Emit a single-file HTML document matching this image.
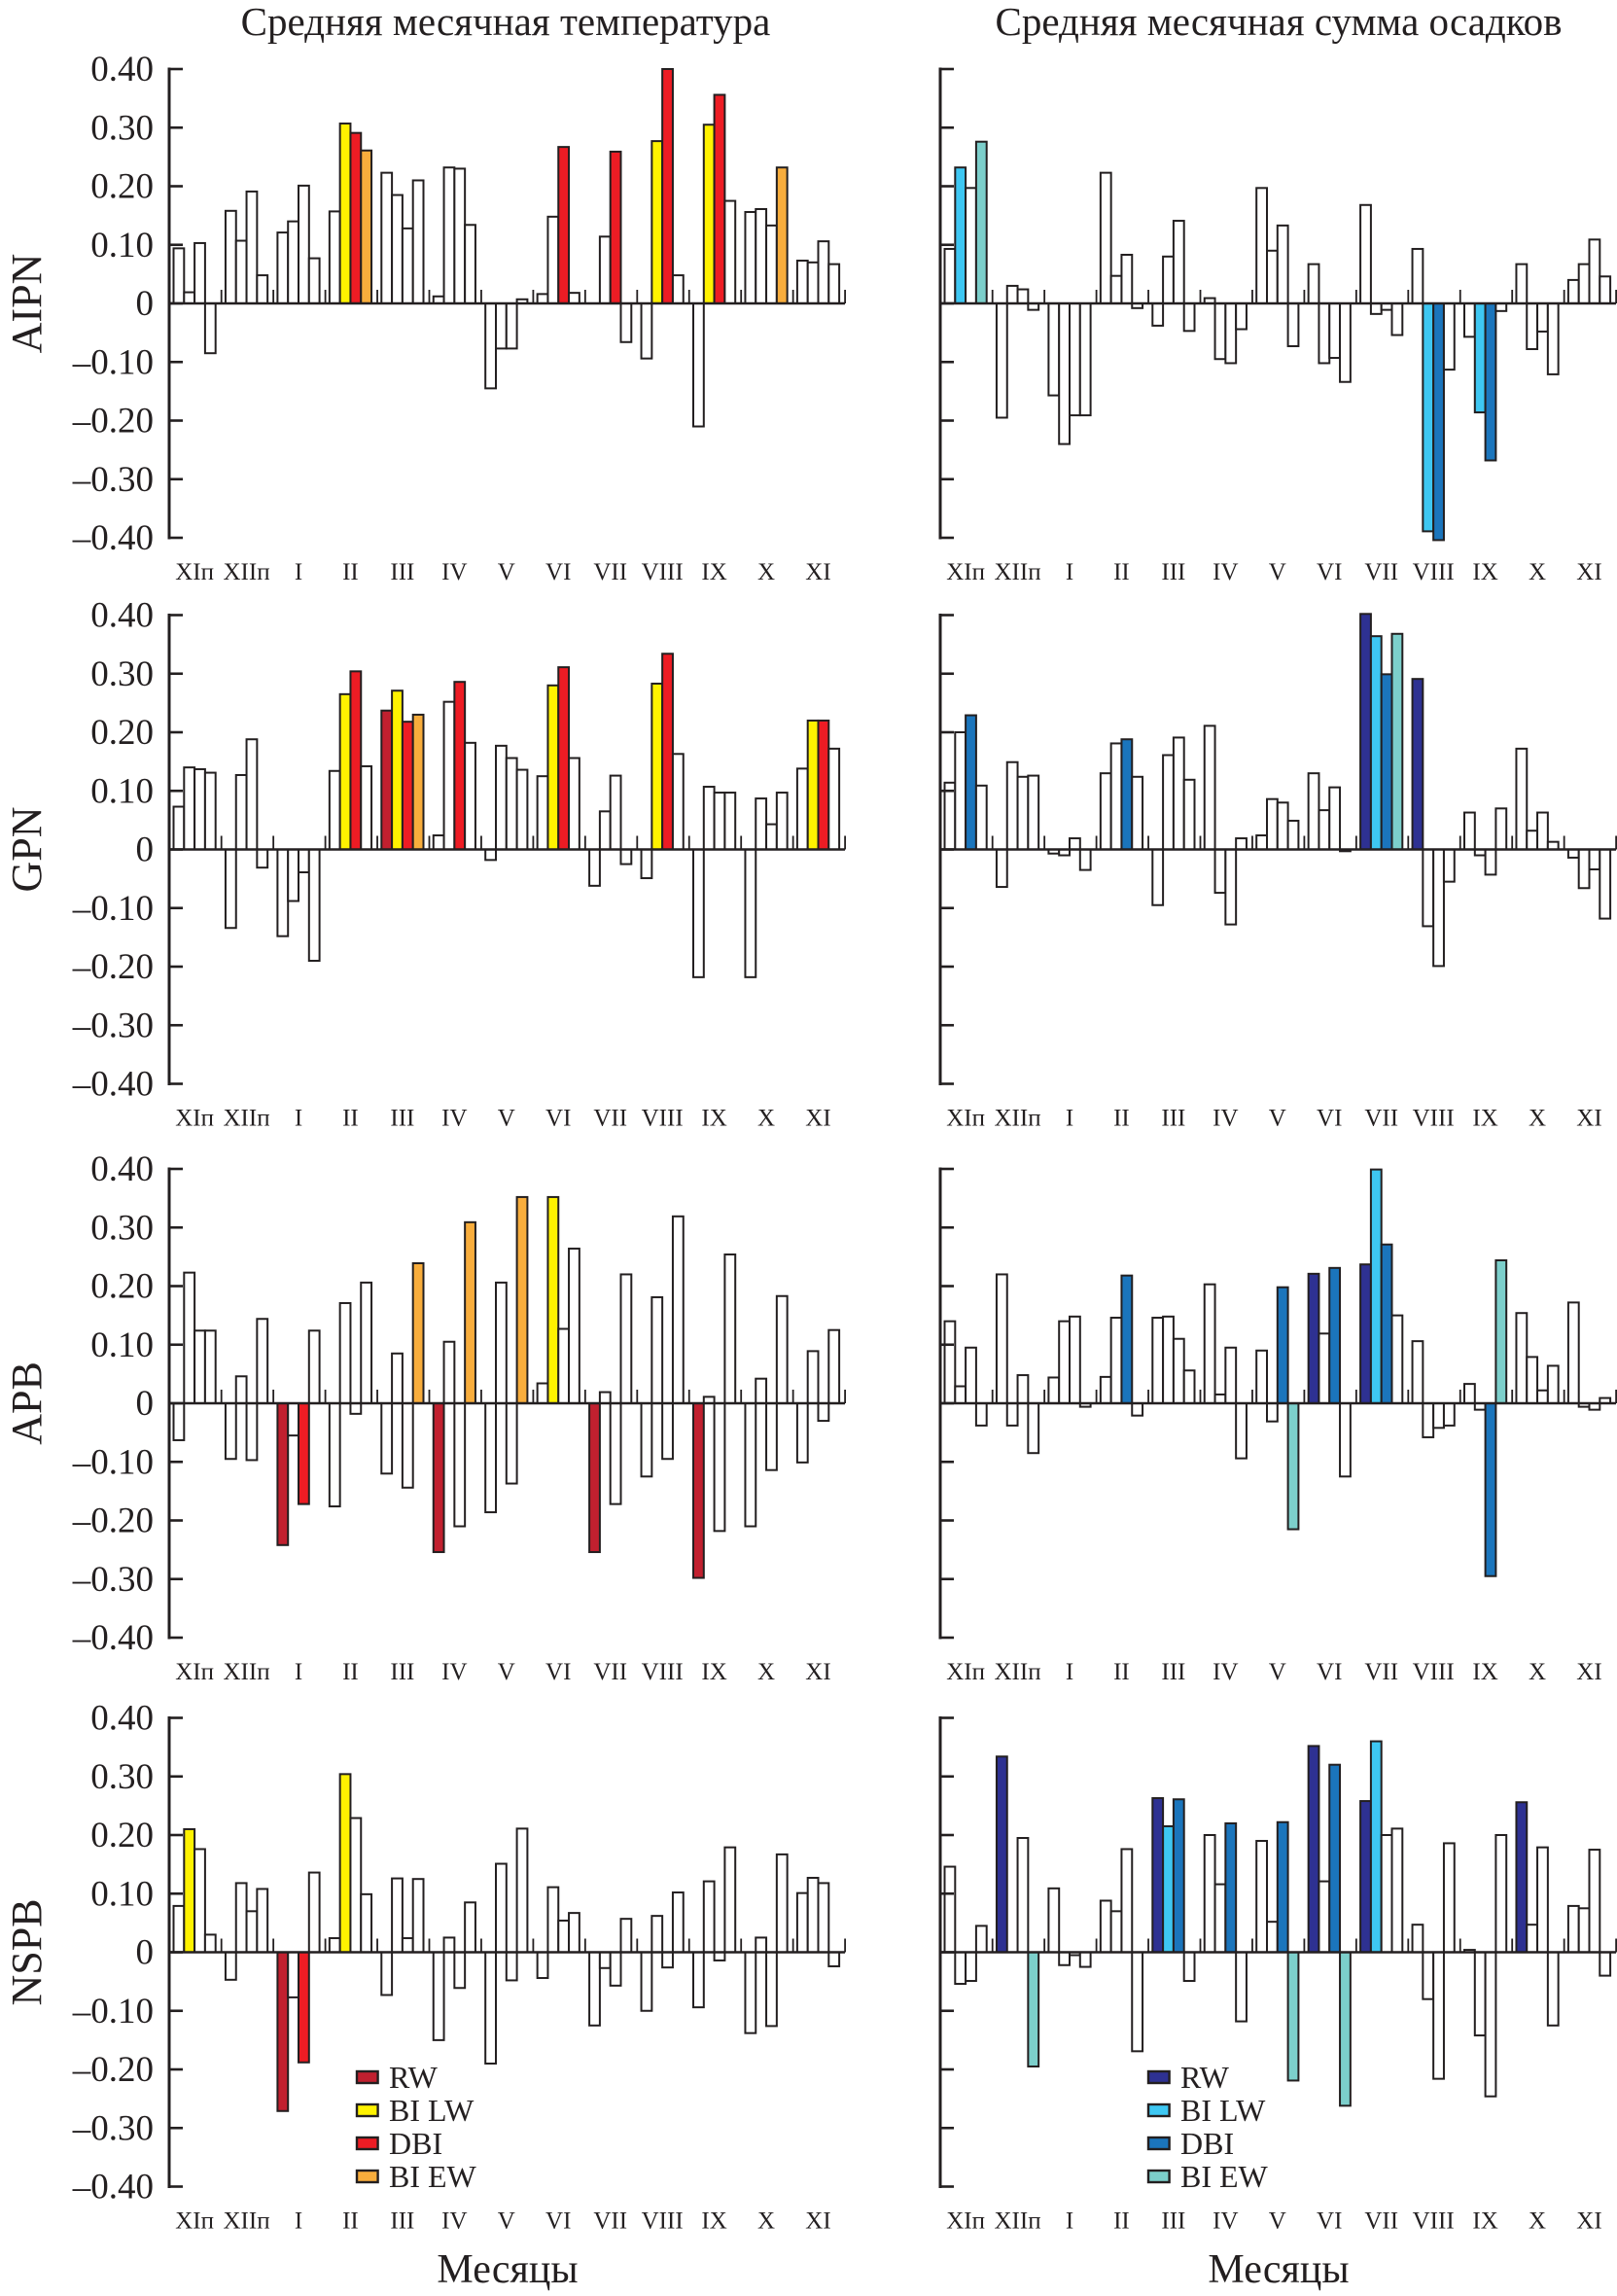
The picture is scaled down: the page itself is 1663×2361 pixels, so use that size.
<!DOCTYPE html>
<html><head><meta charset="utf-8">
<style>
html,body{margin:0;padding:0;background:#fff;}
svg{display:block;font-family:"Liberation Serif","DejaVu Serif",serif;}
</style></head>
<body>
<svg id="chart" width="1663" height="2361" viewBox="0 0 1663 2361" xmlns="http://www.w3.org/2000/svg">
<text x="520" y="36" font-size="41" text-anchor="middle" fill="#231f20">Средняя месячная температура</text>
<text x="1315" y="36" font-size="41" text-anchor="middle" fill="#231f20">Средняя месячная сумма осадков</text>
<text x="522" y="2347" font-size="42" text-anchor="middle" fill="#231f20">Месяцы</text>
<text x="1315" y="2347" font-size="42" text-anchor="middle" fill="#231f20">Месяцы</text>
</svg>
<script>
const months = ["XIп","XIIп","I","II","III","IV","V","VI","VII","VIII","IX","X","XI"];
const rowNames = ["AIPN","GPN","APB","NSPB"];
const tickValues = [0.4,0.3,0.2,0.1,0,-0.1,-0.2,-0.3,-0.4];
const tickLabels = ["0.40","0.30","0.20","0.10","0","–0.10","–0.20","–0.30","–0.40"];
const legendLabels = ["RW","BI LW","DBI","BI EW"];

const tempAIPN = [0.094,0.019,0.103,-0.085, 0.158,0.107,0.191,0.048, 0.121,0.140,0.201,0.077, 0.157,0.307,0.291,0.261, 0.223,0.185,0.128,0.210, 0.012,0.232,0.230,0.134, -0.145,-0.077,-0.077,0.007, 0.016,0.148,0.267,0.018, 0,0.114,0.259,-0.066, -0.094,0.277,0.400,0.048, -0.210,0.305,0.356,0.175, 0.156,0.161,0.133,0.232, 0.073,0.070,0.106,0.067];
const tempAIPNSig = "wwwwwwwwwwwwwYDEwwwwwwwwwwwwwwDwwwDwwYDwwYDwwwwEwwww";
const precAIPN = [0.093,0.232,0.197,0.276, -0.195,0.030,0.024,-0.011, -0.157,-0.240,-0.191,-0.191, 0.223,0.047,0.083,-0.008, -0.038,0.080,0.141,-0.047, 0.009,-0.095,-0.102,-0.044, 0.197,0.090,0.133,-0.073, 0.067,-0.102,-0.093,-0.134, 0.168,-0.018,-0.011,-0.054, 0.093,-0.389,-0.404,-0.113, -0.057,-0.186,-0.268,-0.013, 0.067,-0.078,-0.048,-0.121, 0.040,0.067,0.109,0.046];
const precAIPNSig = "wYwEwwwwwwwwwwwwwwwwwwwwwwwwwwwwwwwwwYDwwYDwwwwwwwww";
const tempGPN = [0.073,0.140,0.137,0.131, -0.134,0.127,0.188,-0.031, -0.148,-0.088,-0.039,-0.190, 0.134,0.265,0.304,0.142, 0.237,0.271,0.218,0.230, 0.024,0.252,0.286,0.182, -0.018,0.177,0.156,0.136, 0.125,0.280,0.311,0.156, -0.062,0.065,0.126,-0.025, -0.049,0.283,0.334,0.163, -0.218,0.107,0.097,0.097, -0.218,0.087,0.043,0.097, 0.138,0.220,0.220,0.172];
const tempGPNSig = "wwwwwwwwwwwwwYDwRYDEwwDwwwwwwYDwwwwwwYDwwwwwwwwwwYDw";
const precGPN = [0.114,0.200,0.229,0.109, -0.064,0.149,0.124,0.126, -0.007,-0.010,0.019,-0.035, 0.130,0.181,0.188,0.124, -0.095,0.161,0.191,0.119, 0.211,-0.074,-0.128,0.019, 0.024,0.086,0.080,0.049, 0.130,0.067,0.106,-0.003, 0.402,0.364,0.299,0.368, 0.291,-0.131,-0.199,-0.055, 0.063,-0.010,-0.043,0.070, 0.172,0.032,0.063,0.013, -0.014,-0.066,-0.034,-0.118];
const precGPNSig = "wwDwwwwwwwwwwwDwwwwwwwwwwwwwwwwwRYDERwwwwwwwwwwwwwww";
const tempAPB = [-0.063,0.223,0.124,0.124, -0.095,0.046,-0.097,0.144, -0.242,-0.055,-0.172,0.124, -0.176,0.171,-0.018,0.206, -0.120,0.085,-0.144,0.239, -0.254,0.105,-0.210,0.309, -0.186,0.206,-0.137,0.352, 0.034,0.352,0.127,0.264, -0.254,0.019,-0.172,0.220, -0.125,0.181,-0.095,0.319, -0.298,0.011,-0.218,0.254, -0.210,0.042,-0.114,0.183, -0.101,0.089,-0.030,0.125];
const tempAPBSig = "wwwwwwwwRwDwwwwwwwwERwwEwwwEwYwwRwwwwwwwRwwwwwwwwwww";
const precAPB = [0.140,0.029,0.095,-0.038, 0.220,-0.038,0.048,-0.085, 0.044,0.140,0.148,-0.006, 0.045,0.146,0.218,-0.021, 0.146,0.148,0.110,0.056, 0.203,0.015,0.095,-0.094, 0.090,-0.031,0.198,-0.215, 0.221,0.119,0.231,-0.125, 0.237,0.399,0.271,0.150, 0.106,-0.058,-0.042,-0.038, 0.033,-0.011,-0.295,0.244, 0.154,0.079,0.022,0.064, 0.172,-0.006,-0.011,0.009];
const precAPBSig = "wwwwwwwwwwwwwwDwwwwwwwwwwwDERwDwRYDwwwwwwwDEwwwwwwww";
const tempNSPB = [0.079,0.210,0.176,0.030, -0.047,0.118,0.070,0.108, -0.271,-0.077,-0.188,0.136, 0.024,0.304,0.229,0.099, -0.073,0.126,0.024,0.125, -0.150,0.025,-0.061,0.085, -0.190,0.151,-0.048,0.211, -0.044,0.111,0.054,0.067, -0.125,-0.027,-0.057,0.057, -0.100,0.062,-0.026,0.102, -0.094,0.121,-0.014,0.179, -0.138,0.025,-0.126,0.167, 0.101,0.127,0.118,-0.024];
const tempNSPBSig = "wYwwwwwwRwDwwYwwwwwwwwwwwwwwwwwwwwwwwwwwwwwwwwwwwwww";
const precNSPB = [0.146,-0.054,-0.049,0.045, 0.334,0,0.195,-0.195, 0.109,-0.022,-0.005,-0.025, 0.088,0.070,0.176,-0.169, 0.263,0.215,0.261,-0.049, 0.200,0.116,0.220,-0.118, 0.190,0.052,0.222,-0.219, 0.352,0.121,0.320,-0.262, 0.258,0.360,0.200,0.211, 0.047,-0.080,-0.216,0.186, 0.004,-0.142,-0.246,0.200, 0.256,0.047,0.179,-0.125, 0.079,0.075,0.175,-0.040];
const precNSPBSig = "wwwwRwwEwwwwwwwwRYDwwwDwwwDERwDERYwwwwwwwwwwRwwwwwww";

const NS = "http://www.w3.org/2000/svg";
const svg = document.getElementById("chart");
const INK = "#231f20";
const warm = {w:"#ffffff",R:"#c1202f",Y:"#fff200",D:"#ed1c24",E:"#f8ad3c"};
const cool = {w:"#ffffff",R:"#2e3192",Y:"#3ec7f2",D:"#1b75bc",E:"#7ccfcb"};
const sigNames = {w:"insignificant",R:"rw",Y:"bi-lw",D:"dbi",E:"bi-ew"};
const panelTops = [71, 632.5, 1202, 1766.5];
const axisXs = [174, 967];
const UNIT = 602.5;

function mk(tag, attrs, parent){
  const e = document.createElementNS(NS, tag);
  for (const k in attrs) e.setAttribute(k, attrs[k]);
  (parent||svg).appendChild(e);
  return e;
}
function yScale(top, v){ return top + (0.4 - v) * UNIT; }
function xBar(ax, i){ const g = Math.floor(i/4), b = i%4; return ax + 4.5 + 53.45*g + 10.8*b; }

function drawPanel(col, row, values, sig, name){
  const top = panelTops[row], ax = axisXs[col];
  const pal = col === 0 ? warm : cool;
  const g = mk("g", {});
  
  
  const y0 = yScale(top, 0);
  values.forEach((v, i) => {
    const x = xBar(ax, i);
    const y = Math.min(yScale(top, v), y0);
    const h = Math.abs(yScale(top, v) - y0);
    const r = mk("rect", {x:x, y:y, width:10.8, height:Math.max(h,0.01), fill:pal[sig[i]], stroke:INK, "stroke-width":2}, g);
    
    
  });
  const zl = mk("line", {x1:ax, x2:ax+695, y1:y0, y2:y0, stroke:INK, "stroke-width":2.6}, g);
  
  
  for (let k = 0; k < 13; k++){
    const sx = ax + 53.7 + 53.45*k;
    const s = mk("line", {x1:sx, x2:sx, y1:y0, y2:y0-14, stroke:INK, "stroke-width":1.8}, g);
    
    
  }
  const ya = mk("line", {x1:ax, x2:ax, y1:yScale(top,0.4)-1.5, y2:yScale(top,-0.4)+1.5, stroke:INK, "stroke-width":3}, g);
  
  
  tickValues.forEach((tv, j) => {
    const ty = yScale(top, tv);
    const t = mk("line", {x1:ax, x2:ax+14, y1:ty, y2:ty, stroke:INK, "stroke-width":2.6}, g);
    
    
    if (col === 0){
      const tl = mk("text", {x:158, y:ty+12, "font-size":37, "text-anchor":"end", fill:INK}, g);
      tl.textContent = tickLabels[j];
      
      
    }
  });
  months.forEach((m, k) => {
    const mx = ax + 4.5 + 53.45*k + 21.6;
    const ml = mk("text", {x:mx, y:top+525, "font-size":25, "text-anchor":"middle", fill:INK}, g);
    ml.textContent = m;
    
    
  });
}

const panels = [
  [0,0,tempAIPN,tempAIPNSig,"temp-aipn"],[1,0,precAIPN,precAIPNSig,"prec-aipn"],
  [0,1,tempGPN,tempGPNSig,"temp-gpn"],[1,1,precGPN,precGPNSig,"prec-gpn"],
  [0,2,tempAPB,tempAPBSig,"temp-apb"],[1,2,precAPB,precAPBSig,"prec-apb"],
  [0,3,tempNSPB,tempNSPBSig,"temp-nspb"],[1,3,precNSPB,precNSPBSig,"prec-nspb"]
];
panels.forEach(p => drawPanel(p[0], p[1], p[2], p[3], p[4]));

rowNames.forEach((n, r) => {
  const cy = yScale(panelTops[r], 0);
  const t = mk("text", {x:0, y:0, "font-size":44, "text-anchor":"middle", fill:INK, transform:"translate(42," + cy + ") rotate(-90)"});
  t.textContent = n;
  
  
});

function drawLegend(bx, tx, pal, name){
  const g = mk("g", {});
  
  
  const keys = ["R","Y","D","E"];
  const ys = [2136, 2170, 2204, 2238];
  keys.forEach((k, i) => {
    const r = mk("rect", {x:bx, y:ys[i]-6, width:21.6, height:12, fill:pal[k], stroke:INK, "stroke-width":2.4}, g);
    
    
    const t = mk("text", {x:tx, y:ys[i]+11, "font-size":32, fill:INK}, g);
    t.textContent = legendLabels[i];
    
    
  });
}
drawLegend(367, 400, warm, "legend-temperature");
drawLegend(1181, 1214, cool, "legend-precipitation");
</script>
</body></html>
